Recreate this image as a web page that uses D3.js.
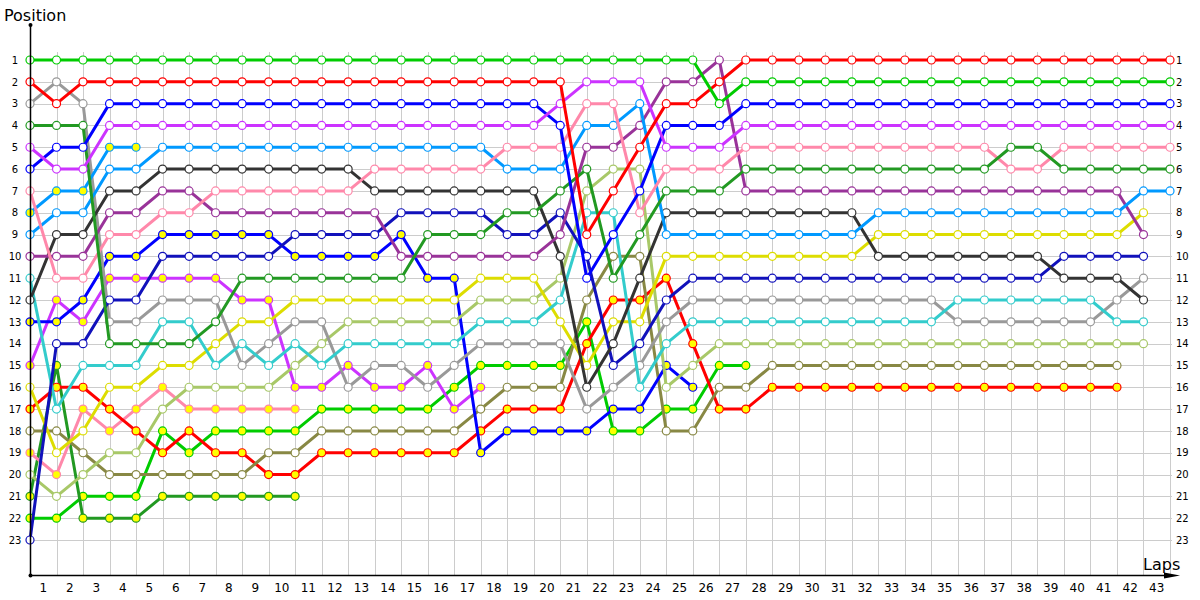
<!DOCTYPE html>
<meta charset="utf-8">
<body style="margin:0;background:#fff">
<style>
  text { font-family: Tahoma, "DejaVu Sans", sans-serif; fill: #000; }
  .grid line { stroke: #cccccc; stroke-width: 1px; shape-rendering: crispEdges; }
  .series path { fill: none; stroke-width: 3px; stroke-linejoin: round; }
  .series circle { stroke-width: 1.2px; }
  .ylab text { font-size: 10px; }
  .xlab text { font-size: 12px; }
</style>
<svg width="1200" height="600"></svg>
<script src="https://d3js.org/d3.v7.min.js"></script>
<script>

var N = null;
var laps = d3.range(0, 44);          // lap 0 = grid
var positions = d3.range(1, 24);

// race position per lap (index = lap), missing = not running
var green    = [1,1,1,1,1,1,1,1,1,1, 1,1,1,1,1,1,1,1,1,1, 1,1,1,1,1,1,3,2,2,2, 2,2,2,2,2,2,2,2,2,2, 2,2,2,2];
var red      = [2,3,2,2,2,2,2,2,2,2, 2,2,2,2,2,2,2,2,2,2, 2,9,7,5,3,3,2,1,1,1, 1,1,1,1,1,1,1,1,1,1, 1,1,1,1];
var gray     = [3,2,3,13,13,12,12,12,15,14, 13,13,16,15,15,16,15,14,14,14, 14,17,16,15,13,12,12,12,12,12, 12,12,12,12,12,13,13,13,13,13, 13,12,11];
var dkgreen  = [4,4,4,14,14,14,14,13,11,11, 11,11,11,11,11,9,9,9,8,8, 7,6,11,9,7,7,7,6,6,6, 6,6,6,6,6,6,6,5,5,6, 6,6,6,6];
var purple   = [5,6,6,4,4,4,4,4,4,4, 4,4,4,4,4,4,4,4,4,4, 3,2,2,2,5,5,5,4,4,4, 4,4,4,4,4,4,4,4,4,4, 4,4,4,4];
var blue     = [6,5,5,3,3,3,3,3,3,3, 3,3,3,3,3,3,3,3,3,3, 4,11,9,7,4,4,4,3,3,3, 3,3,3,3,3,3,3,3,3,3, 3,3,3,3];
var pink     = [7,11,11,9,9,8,8,7,7,7, 7,7,7,6,6,6,6,6,5,5, 5,3,3,8,6,6,6,5,5,5, 5,5,5,5,5,5,5,6,6,5, 5,5,5,5];
var ltblueB  = [8,7,7,5,5];
var ltblue   = [9,8,8,6,6,5,5,5,5,5, 5,5,5,5,5,5,5,5,6,6, 6,4,4,3,9,9,9,9,9,9, 9,9,8,8,8,8,8,8,8,8, 8,8,7,7];
var dkpurple = [10,10,10,8,8,7,7,8,8,8, 8,8,8,8,10,10,10,10,10,10, 9,5,5,4,2,2,1,7,7,7, 7,7,7,7,7,7,7,7,7,7, 7,7,9];
var cyan     = [11,17,15,15,15,13,13,15,14,15, 14,15,14,14,14,14,14,13,13,13, 12,8,8,16,14,13,13,13,13,13, 13,13,13,13,13,12,12,12,12,12, 12,13,13];
var dkgray   = [12,9,9,7,7,6,6,6,6,6, 6,6,6,7,7,7,7,7,7,7, 10,16,14,11,8,8,8,8,8,8, 8,8,10,10,10,10,10,10,10,11, 11,11,12];
var blueB    = [13,13,12,10,10,9,9,9,9,9, 10,10,10,10,9,11,11,19,18,18, 18,18,17,17,15,16];
var purpleB  = [15,12,13,11,11,11,11,11,12,12, 16,16,15,16,16,15,17,16];
var yellow   = [16,19,18,16,16,15,15,14,13,13, 12,12,12,12,12,12,12,11,11,11, 13,15,13,13,10,10,10,10,10,10, 10,10,9,9,9,9,9,9,9,9, 9,9,8];
var redB     = [17,16,16,17,18,19,18,19,19,20, 20,19,19,19,19,19,19,18,17,17, 17,14,12,12,11,14,17,17,16,16, 16,16,16,16,16,16,16,16,16,16, 16,16];
var olive    = [18,18,19,20,20,20,20,20,20,19, 19,18,18,18,18,18,18,17,16,16, 16,12,10,10,18,18,16,16,15,15, 15,15,15,15,15,15,15,15,15,15, 15,15];
var pinkB    = [19,20,17,18,17,16,17,17,17,17, 17];
var ltgreen  = [20,21,20,19,19,17,16,16,16,16, 15,14,13,13,13,13,13,12,12,12, 11,7,6,6,16,15,14,14,14,14, 14,14,14,14,14,14,14,14,14,14, 14,14,14];
var dkgreenB = [21,15,22,22,22,21,21,21,21,21, 21];
var greenB   = [22,22,21,21,21,18,19,18,18,18, 18,17,17,17,17,17,16,15,15,15, 15,13,18,18,17,17,15,15];
var navy     = [23,14,14,12,12,10,10,10,10,10, 9,9,9,9,8,8,8,8,9,9, 8,10,15,14,12,11,11,11,11,11, 11,11,11,11,11,11,11,11,11,10, 10,10,10];

// second driver of a team gets the yellow markers
var series = [
  {pos: greenB,   color: "#00cc00", second: true},
  {pos: dkgreenB, color: "#229922", second: true},
  {pos: pinkB,    color: "#ff88aa", second: true},
  {pos: redB,     color: "#ff0000", second: true},
  {pos: olive,    color: "#888844", second: false},
  {pos: purpleB,  color: "#cc33ff", second: true},
  {pos: blueB,    color: "#0000ff", second: true},
  {pos: ltgreen,  color: "#a8c868", second: false},
  {pos: yellow,   color: "#dddd00", second: false},
  {pos: gray,     color: "#999999", second: false},
  {pos: cyan,     color: "#33cccc", second: false},
  {pos: navy,     color: "#1111bb", second: false},
  {pos: dkgray,   color: "#333333", second: false},
  {pos: dkpurple, color: "#993399", second: false},
  {pos: ltblueB,  color: "#0099ff", second: true},
  {pos: ltblue,   color: "#0099ff", second: false},
  {pos: pink,     color: "#ff88aa", second: false},
  {pos: dkgreen,  color: "#229922", second: false},
  {pos: blue,     color: "#0000ff", second: false},
  {pos: purple,   color: "#cc33ff", second: false},
  {pos: red,      color: "#ff0000", second: false},
  {pos: green,    color: "#00cc00", second: false}
];

var svg = d3.select("svg");

var x = d3.scaleLinear().domain([0, 43]).range([30, 1170]);
var y = d3.scaleLinear().domain([1, 23]).range([60, 540]);
var xBand = d3.scaleBand().domain(laps.slice(1)).range([30, 1170]);
var axisY = 575;

// grid
var grid = svg.append("g").attr("class", "grid");
grid.selectAll(".v").data(laps.slice(1)).enter().append("line")
    .attr("class", "v")
    .attr("x1", function(d) { return Math.round(x(d)) + 0.5; })
    .attr("x2", function(d) { return Math.round(x(d)) + 0.5; })
    .attr("y1", 52).attr("y2", axisY);
grid.selectAll(".h").data(positions).enter().append("line")
    .attr("class", "h")
    .attr("x1", 30).attr("x2", 1172)
    .attr("y1", function(d) { return Math.round(y(d)) + 0.5; })
    .attr("y2", function(d) { return Math.round(y(d)) + 0.5; });

// y labels both sides
var left = svg.append("g").attr("class", "ylab")
    .attr("transform", "translate(30,0)")
    .call(d3.axisLeft(y).tickValues(positions).tickSize(0).tickFormat(d3.format("d")));
left.select(".domain").remove();
left.selectAll("text").attr("x", -15).attr("text-anchor", "middle");

var right = svg.append("g").attr("class", "ylab")
    .attr("transform", "translate(1170,0)")
    .call(d3.axisRight(y).tickValues(positions).tickSize(0).tickPadding(6).tickFormat(d3.format("d")));
right.select(".domain").remove();

// lap labels sit between the grid lines
var bottom = svg.append("g").attr("class", "xlab")
    .attr("transform", "translate(0," + axisY + ")")
    .call(d3.axisBottom(xBand).tickSize(0).tickPadding(8));
bottom.select(".domain").remove();

// series
var line = d3.line()
    .defined(function(d) { return d != null; })
    .x(function(d, i) { return x(i); })
    .y(function(d) { return y(d); });

var g = svg.selectAll(".series").data(series).enter().append("g").attr("class", "series");
g.append("path")
    .attr("stroke", function(d) { return d.color; })
    .attr("d", function(d) { return line(d.pos); });
g.each(function(s) {
  d3.select(this).selectAll("circle")
    .data(s.pos.map(function(p, i) { return {lap: i, p: p}; }).filter(function(d) { return d.p != null; }))
    .enter().append("circle")
      .attr("cx", function(d) { return x(d.lap); })
      .attr("cy", function(d) { return y(d.p); })
      .attr("r", 4)
      .attr("fill", s.second ? "#ffff00" : "#ffffff")
      .attr("stroke", s.color);
});

// axes
svg.append("line").attr("x1", 30.5).attr("x2", 30.5).attr("y1", 25).attr("y2", axisY)
    .attr("stroke", "#000").attr("stroke-width", 1.5);
svg.append("line").attr("x1", 30).attr("x2", 1168).attr("y1", axisY + 0.5).attr("y2", axisY + 0.5)
    .attr("stroke", "#000").attr("stroke-width", 1.5);
svg.append("path").attr("d", "M1164," + (axisY - 2.5) + " L1180," + (axisY + 0.5) + " L1164," + (axisY + 3.5) + " Z")
    .attr("fill", "#000");
svg.append("circle").attr("cx", 30.5).attr("cy", 25).attr("r", 2).attr("fill", "#000");
svg.append("circle").attr("cx", 30.5).attr("cy", axisY + 0.5).attr("r", 2).attr("fill", "#000");

svg.append("text").attr("x", 4).attr("y", 21).style("font-size", "16px").text("Position");
svg.append("text").attr("x", 1143).attr("y", 570).style("font-size", "16px").text("Laps");

</script>
</body>
